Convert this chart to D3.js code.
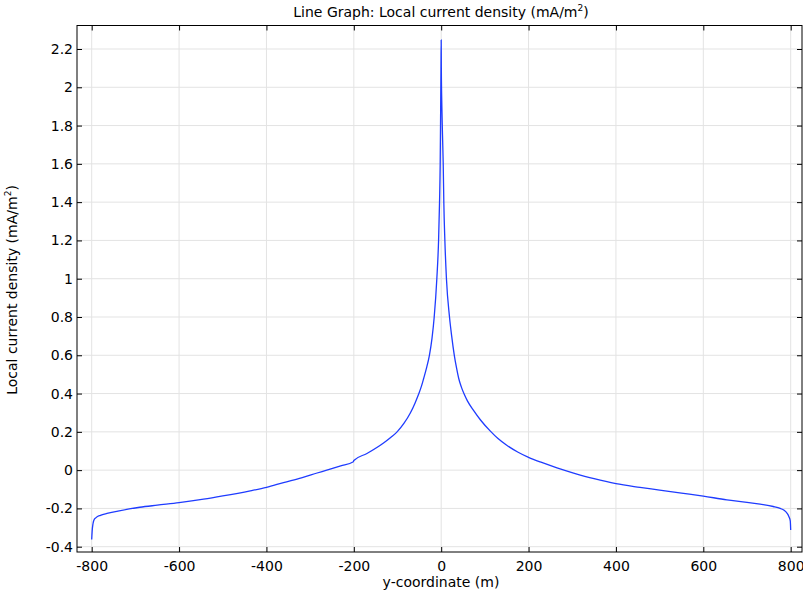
<!DOCTYPE html>
<html>
<head>
<meta charset="utf-8">
<script src="https://cdn.jsdelivr.net/npm/d3@7"></script>
<style>
  body { margin: 0; background: #fff; }
  svg { display: block; font-family: "DejaVu Sans", sans-serif; }
</style>
</head>
<body>
<svg id="chart" width="803" height="590"></svg>
<script>
// data: y-coordinate (m) vs local current density (mA/m^2)
var yCoord = [-800, -799, -797, -795, -790, -780, -765, -740, -690, -650, -600, -544, -500, -437,
    -400, -361, -320, -284, -262, -230, -201, -200, -170, -132, -115, -101, -85, -71, -60, -52, -45, -40, -34, -27, -21, -16,
    -10, -6, -3.8, -2.3, -1.2, -0.5, 0,
    0.3, 1.5, 3, 4.6, 6, 8.4, 12, 19, 24, 30, 35, 40, 46, 52, 60, 74, 90, 112, 130, 150, 175, 200, 230, 265, 303, 350, 400, 455,
    500, 550, 600, 654, 700, 730, 760, 776, 785, 791, 796, 799, 800];
var density = [-0.362, -0.32, -0.28, -0.262, -0.248, -0.236, -0.226, -0.214, -0.194, -0.183, -0.17, -0.152, -0.135, -0.108,
    -0.09, -0.065, -0.04, -0.015, 0.0, 0.022, 0.044, 0.05, 0.087, 0.142, 0.172, 0.2, 0.245, 0.297, 0.35, 0.395, 0.44, 0.48, 0.53, 0.6, 0.69, 0.8,
    1.0, 1.2, 1.4, 1.6, 1.9, 2.1, 2.247,
    2.1, 1.9, 1.75, 1.6, 1.4, 1.2, 1.0, 0.8, 0.7, 0.6, 0.535, 0.48, 0.435, 0.4, 0.362, 0.312, 0.262, 0.205, 0.165, 0.13, 0.095, 0.067, 0.04, 0.012, -0.015, -0.045, -0.071, -0.09,
    -0.104, -0.12, -0.136, -0.155, -0.168, -0.178, -0.19, -0.2, -0.21, -0.223, -0.243, -0.265, -0.313];

var xTicks = [-800, -600, -400, -200, 0, 200, 400, 600, 800];
var yTicks = [-0.4, -0.2, 0, 0.2, 0.4, 0.6, 0.8, 1, 1.2, 1.4, 1.6, 1.8, 2, 2.2];

var svg = d3.select("#chart");

// plot frame (don't call it "top", that's window.top)
var fLeft = 77, fRight = 802, fTop = 25.5, fBottom = 552;

var x = d3.scaleLinear().domain([-800, 800]).range([91.7, 790.7]);
var y = d3.scaleLinear().domain([-0.4, 2.2]).range([546.7, 49]);

// grid
var grid = svg.append("g");
grid.selectAll(".vg").data(xTicks).enter().append("line")
    .attr("x1", d => x(d)).attr("x2", d => x(d))
    .attr("y1", fTop).attr("y2", fBottom)
    .attr("stroke", "#e3e3e3").attr("stroke-width", 1);
grid.selectAll(".hg").data(yTicks).enter().append("line")
    .attr("x1", fLeft).attr("x2", fRight)
    .attr("y1", d => y(d)).attr("y2", d => y(d))
    .attr("stroke", "#e3e3e3").attr("stroke-width", 1);

// the curve
var pts = yCoord.map((v, i) => [v, density[i]]);
svg.append("path")
    .datum(pts)
    .attr("fill", "none")
    .attr("stroke", "#1f3cff")
    .attr("stroke-width", 1.3)
    .attr("stroke-linejoin", "round")
    .attr("d", d3.line().curve(d3.curveMonotoneX).x(d => x(d[0])).y(d => y(d[1])));

// axes, ticks pointing inwards on all sides
var fmt = d => String(d);
var tl = 5;

svg.append("g").attr("transform", "translate(0," + fBottom + ")")
    .call(d3.axisBottom(x).tickValues(xTicks).tickSizeInner(-tl).tickSizeOuter(0).tickPadding(9).tickFormat(fmt))
    .call(g => g.select(".domain").remove());
svg.append("g").attr("transform", "translate(0," + fTop + ")")
    .call(d3.axisTop(x).tickValues(xTicks).tickSizeInner(-tl).tickSizeOuter(0).tickFormat(""))
    .call(g => g.select(".domain").remove());
svg.append("g").attr("transform", "translate(" + fLeft + ",0)")
    .call(d3.axisLeft(y).tickValues(yTicks).tickSizeInner(-tl).tickSizeOuter(0).tickPadding(4).tickFormat(fmt))
    .call(g => g.select(".domain").remove());
svg.append("g").attr("transform", "translate(" + fRight + ",0)")
    .call(d3.axisRight(y).tickValues(yTicks).tickSizeInner(-tl).tickSizeOuter(0).tickFormat(""))
    .call(g => g.select(".domain").remove());

svg.selectAll(".tick text").attr("font-size", 14).attr("fill", "#000")
    .attr("font-family", "DejaVu Sans, sans-serif");
svg.selectAll(".tick line").attr("stroke", "#000");

svg.append("rect")
    .attr("x", fLeft).attr("y", fTop)
    .attr("width", fRight - fLeft).attr("height", fBottom - fTop)
    .attr("fill", "none").attr("stroke", "#000").attr("stroke-width", 1);

// title
var title = svg.append("text")
    .attr("x", 441).attr("y", 17)
    .attr("text-anchor", "middle").attr("font-size", 14);
title.append("tspan").text("Line Graph: Local current density (mA/m");
title.append("tspan").attr("font-size", 9).attr("dy", -6).text("2");
title.append("tspan").attr("dy", 6).text(")");

// axis labels
svg.append("text")
    .attr("x", 441).attr("y", 587)
    .attr("text-anchor", "middle").attr("font-size", 14)
    .text("y-coordinate (m)");

var yl = svg.append("text")
    .attr("transform", "translate(17,290) rotate(-90)")
    .attr("text-anchor", "middle").attr("font-size", 14);
yl.append("tspan").text("Local current density (mA/m");
yl.append("tspan").attr("font-size", 9).attr("dy", -6).text("2");
yl.append("tspan").attr("dy", 6).text(")");
</script>
</body>
</html>
